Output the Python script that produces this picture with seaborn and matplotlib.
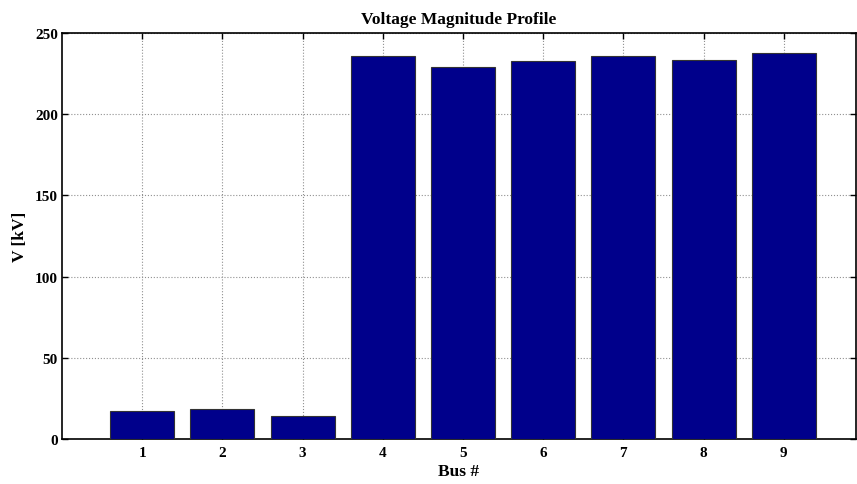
import matplotlib
matplotlib.use("Agg")
import matplotlib.pyplot as plt
import seaborn as sns
import pandas as pd

buses = [1, 2, 3, 4, 5, 6, 7, 8, 9]
voltage_kv = [17.16, 18.45, 14.15, 235.9, 229.0, 233.0, 235.9, 233.6, 237.4]
yticks = [0, 50, 100, 150, 200, 250]

sns.set_theme(style="white")
plt.rcParams['font.family'] = ['Liberation Serif', 'DejaVu Serif']
plt.rcParams['font.weight'] = 'bold'
plt.rcParams['text.color'] = 'black'
plt.rcParams['axes.labelcolor'] = 'black'
plt.rcParams['xtick.color'] = 'black'
plt.rcParams['ytick.color'] = 'black'

df = pd.DataFrame({"bus": buses, "v": voltage_kv})

fig = plt.figure(figsize=(8.57, 4.85), dpi=100)
ax = fig.add_axes([62/857, 45/485, (856-62)/857, (440-34)/485])

sns.barplot(data=df, x="bus", y="v", ax=ax, color="#00008B", saturation=1,
            width=0.8, edgecolor="#333333", linewidth=0.8, native_scale=True, zorder=3)

ax.set_xlim(0, 9.9)
ax.set_ylim(0, 250)
ax.set_xticks(buses)
ax.set_xticklabels([str(b) for b in buses], fontsize=11, fontweight='bold', color='black')
ax.set_yticks(yticks)
ax.set_yticklabels([str(t) for t in yticks], fontsize=11, fontweight='bold', color='black')
ax.grid(True, linestyle=':', color='#909090', linewidth=0.8, zorder=0)
ax.set_axisbelow(True)
ax.tick_params(direction='in', length=4, width=1, top=True, right=True, left=True, bottom=True,
               colors='black')
ax.tick_params(axis='y', pad=3)
ax.tick_params(axis='x', pad=5)
for side in ['left', 'bottom', 'top', 'right']:
    ax.spines[side].set_color('black')
    ax.spines[side].set_linewidth(1.2)
ax.set_xlabel("Bus #", fontsize=12.5, fontweight='bold', labelpad=3, color='black')
ax.set_ylabel("V [kV]", fontsize=12.5, fontweight='bold', labelpad=5, color='black')
ax.set_title("Voltage Magnitude Profile", fontsize=12.5, fontweight='bold', pad=7, color='black')

fig.savefig("out.png", dpi=100, facecolor='white')
